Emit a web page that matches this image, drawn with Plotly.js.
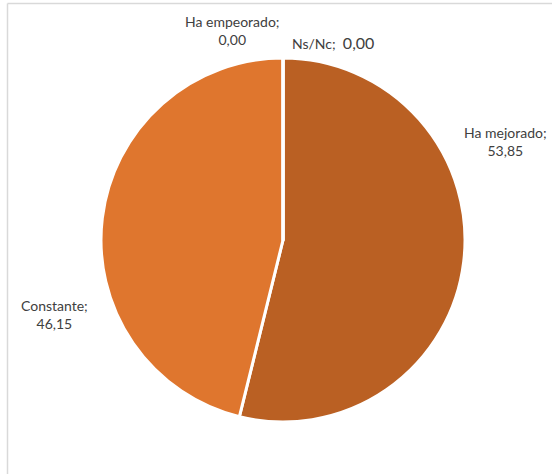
<!DOCTYPE html>
<html>
<head>
<meta charset="utf-8">
<script src="https://cdn.plot.ly/plotly-3.0.1.min.js"></script>
<style>html,body{margin:0;padding:0;background:#fff;}#chart{width:552px;height:474px;}</style>
</head>
<body>
<div id="chart"></div>
<script>
const categories = ['Ha mejorado', 'Constante', 'Ha empeorado', 'Ns/Nc'];
const values = [53.85, 46.15, 0.00, 0.00];
const colors = ['#BA6023', '#DF762E', '#A5A5A5', '#FFC000'];

const fmt = v => v.toFixed(2).replace('.', ',');

// label placement (paper coords) for each category
const labelPos = [
  {x: 505/552, y: 1 - 141/474, text: categories[0] + ';<br>' + fmt(values[0])},
  {x: 54/552,  y: 1 - 314/474, text: categories[1] + ';<br>' + fmt(values[1])},
  {x: 232/552, y: 1 - 31/474,  text: categories[2] + ';<br>' + fmt(values[2])},
  {x: 333/552, y: 1 - 42/474,  text: categories[3] + ';  <span style="font-size:16px">' + fmt(values[3]) + '</span>'}
];

const trace = {
  type: 'pie',
  labels: categories,
  values: values,
  sort: false,
  direction: 'clockwise',
  rotation: 0,
  textinfo: 'none',
  hoverinfo: 'label+value',
  marker: {colors: colors, line: {color: '#ffffff', width: 3}},
  domain: {x: [101/552, 465/552], y: [52/474, 416/474]},
  showlegend: false
};

const annotations = labelPos.map(p => ({
  xref: 'paper', yref: 'paper', x: p.x, y: p.y,
  text: p.text, showarrow: false, align: 'center',
  xanchor: 'center', yanchor: 'middle',
  font: {family: 'Lato, "Open Sans", sans-serif', size: 14, color: '#404040'}
}));

const layout = {
  width: 552, height: 474,
  margin: {l: 0, r: 0, t: 0, b: 0},
  paper_bgcolor: '#ffffff',
  annotations: annotations,
  shapes: [
    {type: 'line', xref: 'paper', yref: 'paper', x0: 7.5/552, x1: 1, y0: 1 - 3.5/474, y1: 1 - 3.5/474, line: {color: '#d9d9d9', width: 1.5}},
    {type: 'line', xref: 'paper', yref: 'paper', x0: 7.5/552, x1: 7.5/552, y0: 0, y1: 1 - 3.5/474, line: {color: '#d9d9d9', width: 1.5}}
  ]
};

Plotly.newPlot('chart', [trace], layout, {displayModeBar: false, staticPlot: true});
</script>
</body>
</html>
